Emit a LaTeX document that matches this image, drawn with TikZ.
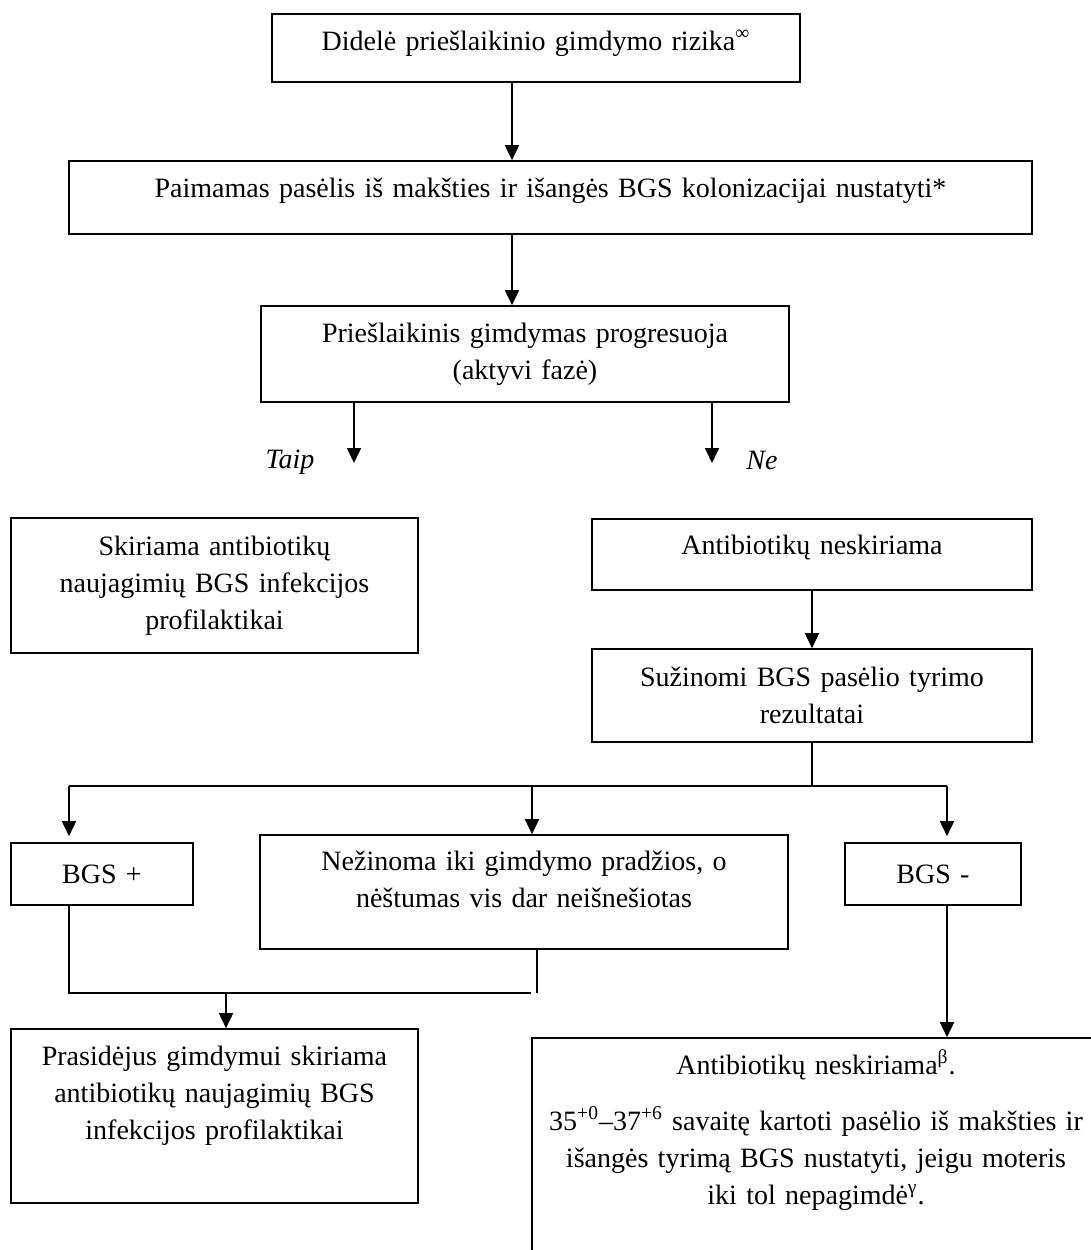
\documentclass[tikz,border=0pt]{standalone}
\usepackage{fontspec}
\setmainfont{Liberation Serif}
\usetikzlibrary{arrows.meta}
\tikzset{
  box/.style={draw,line width=0.8pt,align=center,inner xsep=0pt,inner ysep=0pt,
    font=\fontsize{14pt}{18.5pt}\selectfont},
  arr/.style={line width=0.8pt,-{Triangle[width=7pt,length=7.5pt]}},
  wire/.style={line width=0.8pt},
  lbl/.style={font=\fontsize{14pt}{18.5pt}\selectfont\itshape,inner sep=0pt}
}
\begin{document}
\begin{tikzpicture}[x=0.5pt,y=-0.5pt]
\useasboundingbox (0,0) rectangle (1091,1250);
\clip (0,0) rectangle (1091,1250);
\node[box,minimum width=264pt,minimum height=34pt,text width=254pt,text height=10pt,text depth=8pt] (risk) at (536,48) {Didelė priešlaikinio gimdymo rizika\textsuperscript{∞}};
\node[box,minimum width=481.5pt,minimum height=36.5pt,text width=470pt,text height=10pt,text depth=10.5pt] (culture) at (550.5,197.5) {Paimamas pasėlis iš makšties ir išangės BGS kolonizacijai nustatyti*};
\node[box,minimum width=264pt,minimum height=48pt,text width=254pt] (progress) at (525,354) {Priešlaikinis gimdymas progresuoja\\(aktyvi fazė)};
\node[lbl,anchor=base] (yes) at (290,468) {Taip};
\node[lbl,anchor=base] (notxt) at (762,469) {Ne};
\node[box,minimum width=203.5pt,minimum height=67.5pt,text width=195pt] (give) at (214.5,585.5) {Skiriama antibiotikų\\naujagimių BGS infekcijos\\profilaktikai};
\node[box,minimum width=220pt,minimum height=35.5pt,text width=210pt,text height=10pt,text depth=10.5pt] (no) at (812,554.5) {Antibiotikų neskiriama};
\node[box,minimum width=220pt,minimum height=46.5pt,text width=210pt] (results) at (812,695.5) {Sužinomi BGS pasėlio tyrimo\\rezultatai};
\node[box,minimum width=91pt,minimum height=31pt,text width=85pt] (pos) at (102,874) {BGS +};
\node[box,minimum width=264pt,minimum height=57pt,text width=254pt,text height=10pt,text depth=32pt] (unknown) at (524,892) {Nežinoma iki gimdymo pradžios, o\\nėštumas vis dar neišnešiotas};
\node[box,minimum width=88pt,minimum height=31pt,text width=82pt] (neg) at (933,874) {BGS -};
\node[box,minimum width=203.5pt,minimum height=87pt,text width=195pt,text height=10pt,text depth=61pt] (treat) at (214.5,1116) {Prasidėjus gimdymui skiriama\\antibiotikų naujagimių BGS\\infekcijos profilaktikai};
\node[box,minimum width=284pt,minimum height=131pt,text width=276pt,text height=10pt,text depth=105pt] (recheck) at (816,1169) {Antibiotikų neskiriama\textsuperscript{β}.\\[9.5pt]35\textsuperscript{+0}–37\textsuperscript{+6} savaitę kartoti pasėlio iš makšties ir\\išangės tyrimą BGS nustatyti, jeigu moteris\\iki tol nepagimdė\textsuperscript{γ}.};
\coordinate (spine) at (512,0);
\draw[arr] (risk.south -| spine) -- (culture.north -| spine);
\draw[arr] (culture.south -| spine) -- (progress.north -| spine);
\coordinate (yesend) at (354,463);
\coordinate (noend) at (712,463);
\draw[arr] (progress.south -| yesend) -- (yesend);
\draw[arr] (progress.south -| noend) -- (noend);
\draw[arr] (no) -- (results);
\coordinate (split) at (812,786);
\coordinate (lsplit) at (69,786);
\coordinate (msplit) at (532,786);
\coordinate (rsplit) at (947,786);
\draw[wire] (results.south) -- (split);
\draw[wire] (lsplit) -- (rsplit);
\draw[arr,shorten >=3pt] (lsplit) -- (lsplit |- pos.north);
\draw[arr] (msplit) -- (msplit |- unknown.north);
\draw[arr,shorten >=3pt] (rsplit) -- (rsplit |- neg.north);
\coordinate (rmerge) at (531,993);
\coordinate (umerge) at (537,993);
\coordinate (dmerge) at (226,993);
\draw[wire] (pos.south -| lsplit) |- (rmerge);
\draw[wire] (unknown.south -| umerge) -- (umerge);
\draw[arr] (dmerge) -- (dmerge |- treat.north);
\draw[arr] (neg.south -| rsplit) -- (rsplit |- recheck.north);
\end{tikzpicture}
\end{document}
